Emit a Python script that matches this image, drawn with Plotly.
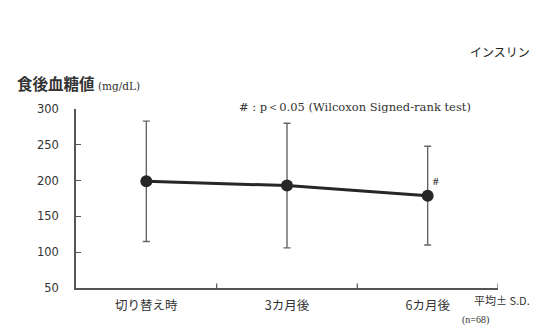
import plotly.graph_objects as go

# Postprandial blood glucose, mean ± SD (n=68)
categories = ["切り替え時", "3カ月後", "6カ月後"]
means = [199, 193, 179]
sds = [84, 87, 69]
y_ticks = [50, 100, 150, 200, 250, 300]

jp = "Noto Sans CJK JP"
ink = "#262626"
axis_col = "#555555"
W, H = 536, 330
ML, MR, MT, MB = 76, 38, 109, 42

fig = go.Figure()
fig.add_trace(go.Scatter(
    x=[0, 1, 2],
    y=means,
    mode="lines+markers",
    line=dict(color=ink, width=3),
    marker=dict(color=ink, size=12),
    error_y=dict(type="data", array=sds, visible=True,
                 color="#666666", thickness=1.4, width=3.5),
    showlegend=False,
    cliponaxis=False,
))

fig.update_layout(
    width=W, height=H,
    margin=dict(l=ML, r=MR, t=MT, b=MB),
    paper_bgcolor="white", plot_bgcolor="white",
    font=dict(family=jp, color="#333333"),
    xaxis=dict(
        range=[-0.5, 2.5],
        tickmode="array",
        tickvals=[0, 1, 2],
        ticktext=categories,
        showgrid=False, zeroline=False,
        showline=True, linecolor=axis_col, linewidth=1.6,
        ticks="", tickfont=dict(size=12.5, family=jp, color="#333333"),
        ticklabelstandoff=5,
    ),
    yaxis=dict(
        range=[50, 300],
        tickmode="array",
        tickvals=y_ticks,
        showgrid=False, zeroline=False,
        showline=True, linecolor=axis_col, linewidth=1.6,
        ticks="inside", ticklen=5, tickwidth=1.2, tickcolor=axis_col,
        tickfont=dict(size=11.5, family="DejaVu Sans", color="#333333"),
        ticklabelstandoff=13,
    ),
)

# category boundary tick marks on the x axis
for b in [0.5, 1.5, 2.5]:
    fig.add_shape(type="line", xref="x", yref="paper", x0=b, x1=b, y0=0, y1=0.025,
                  line=dict(color=axis_col, width=1.2))

# significance marker next to the 6-month point
fig.add_annotation(x=2, y=means[2], xref="x", yref="y", text="<b>#</b>",
                   showarrow=False, xshift=8, yshift=15,
                   font=dict(size=11, family="Liberation Serif", color="#333333"))


def px(x, y):
    """Pixel position in the page -> paper coordinates."""
    return (x - ML) / (W - ML - MR), (H - MB - y) / (H - MT - MB)


texts = [
    dict(x=468, y=51, text="インスリン", size=12, family=jp, color="#222222"),
    dict(x=15, y=83,
         text="<b>食後血糖値</b> <span style='font-size:10.5px;font-family:DejaVu Serif'>(mg/dL)</span>",
         size=15.5, family=jp, color="#333333"),
    dict(x=237, y=107, text="# : p＜0.05 (Wilcoxon Signed-rank test)", size=11.5,
         family="DejaVu Serif", color="#333333"),
    dict(x=472, y=300, text="平均± S.D.", size=11, family=jp, color="#333333"),
    dict(x=460, y=320, text="(n=68)", size=10, family="Liberation Serif", color="#333333"),
]
for t in texts:
    xp, yp = px(t["x"], t["y"])
    fig.add_annotation(
        x=xp, y=yp, xref="paper", yref="paper", text=t["text"], showarrow=False,
        xanchor="left", yanchor="middle",
        font=dict(size=t["size"], family=t["family"], color=t["color"]),
    )

fig.write_html("out.html")
